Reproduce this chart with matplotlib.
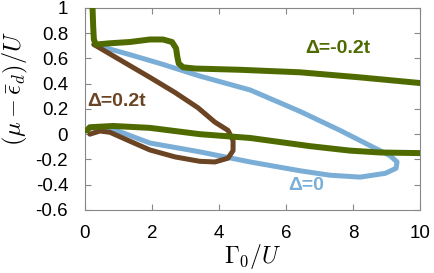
import matplotlib
matplotlib.use("Agg")
import matplotlib.pyplot as plt

# Delta = -0.2t (green), two branches
green_hi_x = [0.23, 0.25, 0.27, 0.33, 0.75, 1.34, 1.94, 2.33, 2.6, 2.72, 2.76, 2.8, 2.93, 3.28, 4.63, 6.42, 8.2, 10.0]
green_hi_y = [1.0, 0.85, 0.75, 0.71, 0.72, 0.73, 0.75, 0.75, 0.73, 0.68, 0.61, 0.56, 0.53, 0.52, 0.51, 0.49, 0.45, 0.405]
green_lo_x = [0.06, 0.15, 0.84, 1.94, 3.43, 4.93, 6.72, 7.9, 8.8, 10.0]
green_lo_y = [0.03, 0.055, 0.065, 0.05, 0.0, -0.03, -0.095, -0.13, -0.145, -0.15]

# Delta = 0 (blue), closed-ish loop
blue_x = [0.27, 1.34, 2.24, 3.43, 4.93, 6.42, 7.61, 8.5, 9.1, 9.31, 9.28, 8.96, 8.21,
          7.31, 6.42, 4.93, 3.43, 1.94, 1.04, 0.45, 0.15]
blue_y = [0.71, 0.63, 0.56, 0.46, 0.35, 0.18, 0.03, -0.09, -0.17, -0.22, -0.27, -0.31, -0.34,
          -0.325, -0.29, -0.22, -0.14, -0.07, 0.02, 0.05, 0.05]

# Delta = 0.2t (brown)
brown_x = [0.27, 1.04, 1.94, 2.69, 3.37, 3.88, 4.27, 4.42, 4.42, 4.27, 3.88, 3.43, 2.69,
           1.94, 1.34, 0.75, 0.45, 0.15]
brown_y = [0.71, 0.59, 0.45, 0.33, 0.21, 0.095, 0.03, -0.05, -0.13, -0.19, -0.22, -0.215, -0.18,
           -0.125, -0.055, 0.015, 0.025, 0.0]

GREEN = "#4f6b00"
BLUE = "#7aaed6"
BROWN = "#6b4423"

plt.rcParams["font.family"] = ["Liberation Sans", "DejaVu Sans"]
plt.rcParams["mathtext.fontset"] = "cm"
plt.rcParams["axes.unicode_minus"] = False

fig = plt.figure(figsize=(4.35, 2.73), dpi=100)
ax = fig.add_axes([0.195, 0.231, 0.771, 0.74])

ax.plot(blue_x, blue_y, color=BLUE, lw=3.6, solid_capstyle="round", zorder=2)
ax.plot(brown_x, brown_y, color=BROWN, lw=3.6, solid_capstyle="round", zorder=3)
ax.plot(green_hi_x, green_hi_y, color=GREEN, lw=4.3, solid_capstyle="round", zorder=4)
ax.plot(green_lo_x, green_lo_y, color=GREEN, lw=4.3, solid_capstyle="round", zorder=4)

ax.text(7.55, 0.68, "Δ=-0.2t", color=GREEN, fontsize=14, fontweight="bold", ha="center", va="center")
ax.text(0.95, 0.26, "Δ=0.2t", color=BROWN, fontsize=14, fontweight="bold", ha="center", va="center")
ax.text(6.6, -0.41, "Δ=0", color=BLUE, fontsize=14, fontweight="bold", ha="center", va="center")

ax.set_xlim(0, 10)
ax.set_ylim(-0.6, 1.0)
ax.set_xticks([0, 2, 4, 6, 8, 10])
ax.set_yticks([-0.6, -0.4, -0.2, 0, 0.2, 0.4, 0.6, 0.8, 1])
ax.set_yticklabels(["-0.6", "-0.4", "-0.2", "0", "0.2", "0.4", "0.6", "0.8", "1"])
ax.tick_params(direction="in", top=True, right=True, length=4, labelsize=13.5, colors="#888888",
               labelcolor="black")
ax.tick_params(axis="x", pad=11)
ax.tick_params(axis="y", pad=12)
for s in ax.spines.values():
    s.set_color("#888888")

ax.set_xlabel(r"$\Gamma_0/U$", fontsize=17, labelpad=0)
ax.set_ylabel(r"$(\mu-\bar{\epsilon}_d)/U$", fontsize=17.5)
ax.yaxis.set_label_coords(-0.162, 0.6)

fig.savefig("out.png", dpi=100)
